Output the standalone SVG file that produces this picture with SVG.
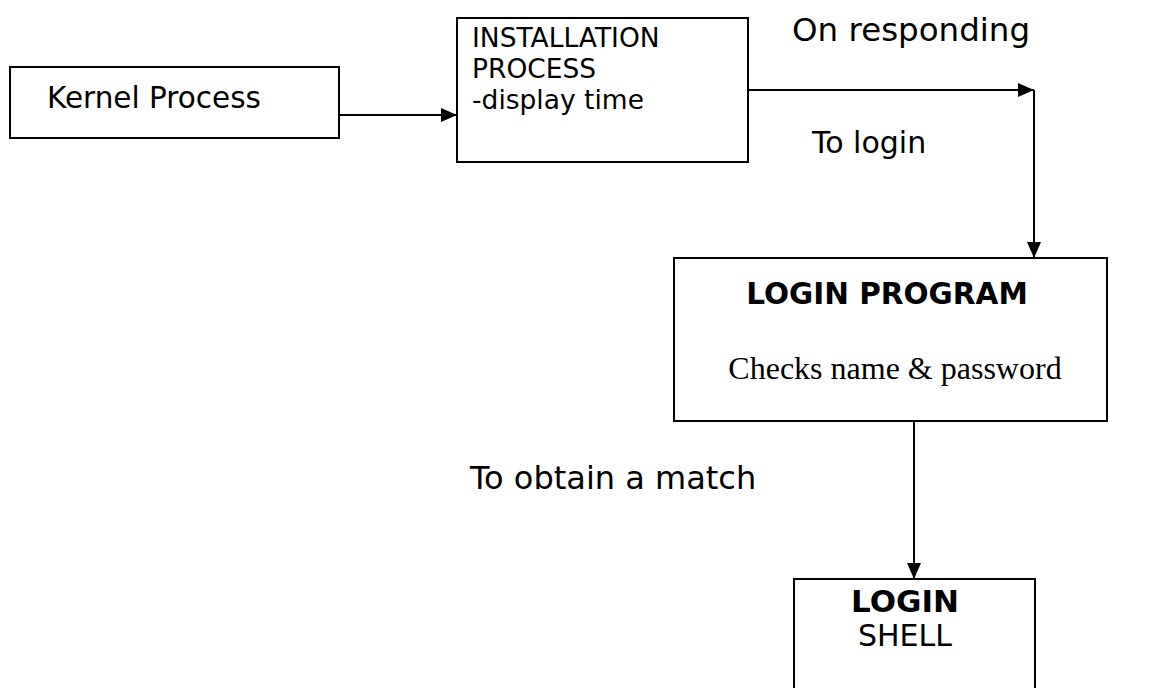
<svg xmlns="http://www.w3.org/2000/svg" width="1170" height="688" viewBox="0 0 1170 688">
  <style>
    .box { fill: #ffffff; stroke: #000000; stroke-width: 2; }
    .wire { fill: none; stroke: #000000; stroke-width: 2; }
    .sans { font-family: "DejaVu Sans", Verdana, sans-serif; fill: #000000; }
    .serif { font-family: "Liberation Serif", "Times New Roman", serif; fill: #000000; }
    .bold { font-weight: bold; }
  </style>
  <defs>
    <!-- solid triangular arrowhead shared by all connectors -->
    <marker id="arrow" viewBox="0 0 16 14" refX="16" refY="7" markerWidth="16" markerHeight="14" markerUnits="userSpaceOnUse" orient="auto">
      <path d="M0,0 L16,7 L0,14 Z" fill="#000000"/>
    </marker>
  </defs>
  <rect width="1170" height="688" fill="#ffffff"/>

  <g id="connectors">
    <line class="wire" x1="339" y1="115" x2="457" y2="115" marker-end="url(#arrow)"/>
    <line class="wire" x1="748" y1="90" x2="1034" y2="90" marker-end="url(#arrow)"/>
    <line class="wire" x1="1034" y1="90" x2="1034" y2="258" marker-end="url(#arrow)"/>
    <line class="wire" x1="914" y1="421" x2="914" y2="579" marker-end="url(#arrow)"/>
  </g>

  <g id="kernel-process">
    <rect class="box" x="10" y="67" width="329" height="71"/>
    <text class="sans" x="47" y="108" font-size="29.5">Kernel Process</text>
  </g>

  <g id="installation-process">
    <rect class="box" x="457" y="18" width="291" height="144"/>
    <text class="sans" font-size="26.5">
      <tspan x="472" y="47">INSTALLATION</tspan>
      <tspan x="472" y="78">PROCESS</tspan>
      <tspan x="472" y="109">-display time</tspan>
    </text>
  </g>

  <g id="label-on-responding">
    <text class="sans" x="792" y="41" font-size="32.5">On responding</text>
  </g>
  <g id="label-to-login">
    <text class="sans" x="812" y="153" font-size="30">To login</text>
  </g>

  <g id="login-program">
    <rect class="box" x="674" y="258" width="433" height="163"/>
    <text class="sans bold" x="887" y="304" font-size="29.5" text-anchor="middle">LOGIN PROGRAM</text>
    <text class="serif" x="895" y="379" font-size="32" text-anchor="middle">Checks name &amp; password</text>
  </g>

  <g id="label-to-obtain-match">
    <text class="sans" x="470" y="489" font-size="32">To obtain a match</text>
  </g>

  <g id="login-shell">
    <rect class="box" x="794" y="579" width="241" height="120"/>
    <text class="sans bold" x="905" y="612" font-size="31" text-anchor="middle">LOGIN</text>
    <text class="sans" x="905" y="646" font-size="30" text-anchor="middle">SHELL</text>
  </g>
</svg>
